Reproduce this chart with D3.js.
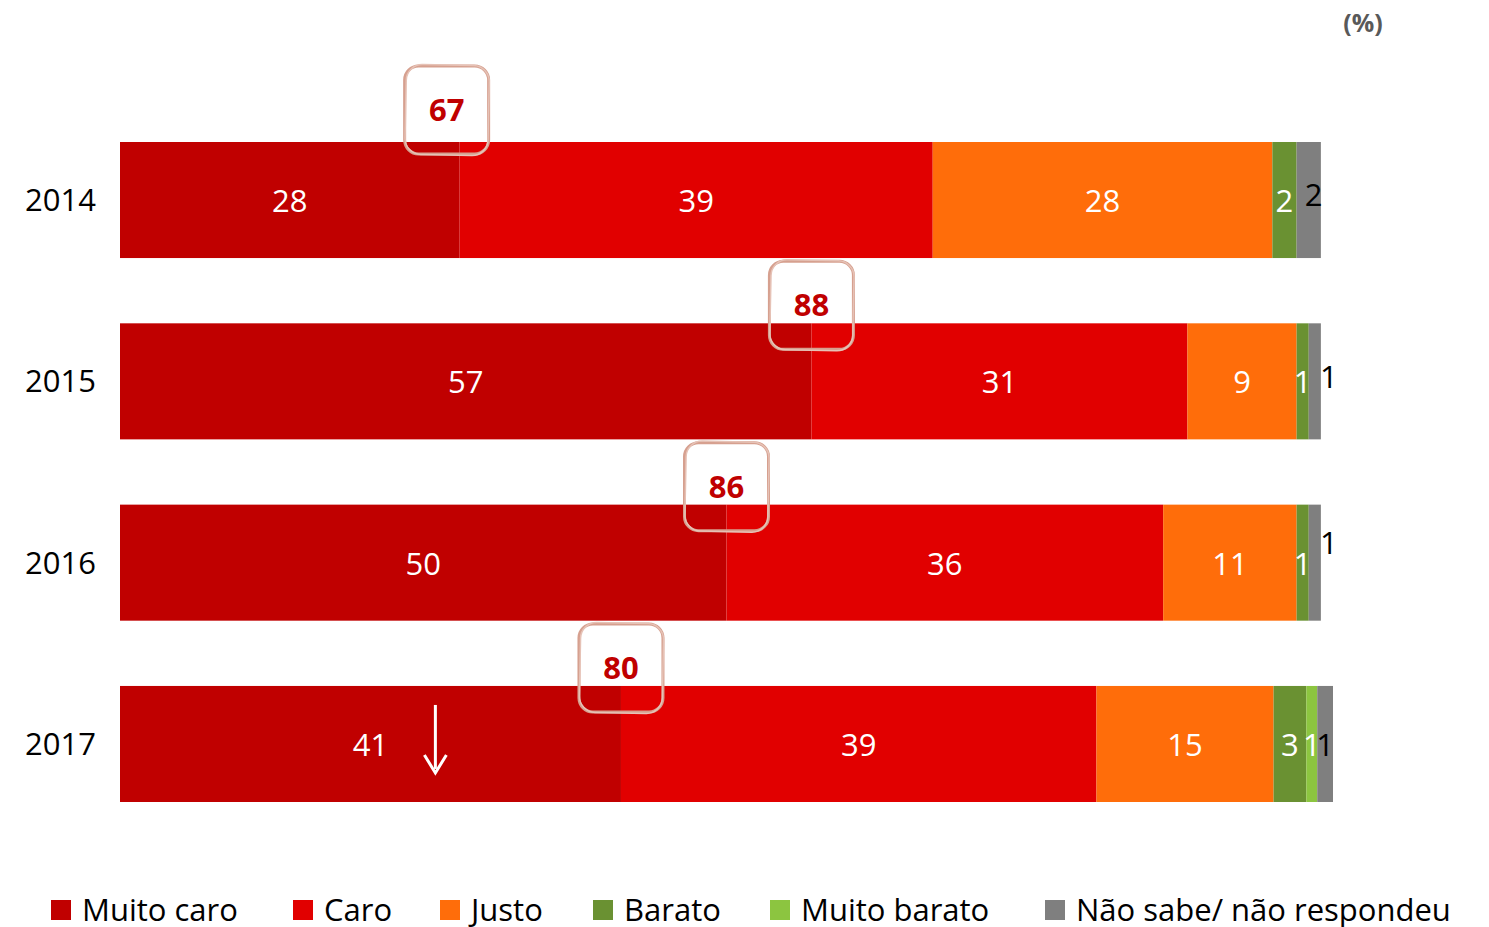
<!DOCTYPE html>
<html>
<head>
<meta charset="utf-8">
<script src="https://cdn.jsdelivr.net/npm/d3@7"></script>
<style>
  body { margin: 0; background: #fff; }
  svg text { font-family: "Open Sans", Calibri, sans-serif; }
</style>
</head>
<body>
<div id="chart-area"></div>
<script>
// data (%)
let years = ["2014", "2015", "2016", "2017"];
let categories = ["Muito caro", "Caro", "Justo", "Barato", "Muito barato", "Não sabe/ não respondeu"];
let muitoCaro   = [28, 57, 50, 41.3];
let caro        = [39, 31, 36, 39.2];
let justo       = [28, 9, 11, 14.6];
let barato      = [2, 1, 1, 2.7];
let muitoBarato = [0, 0, 0, 0.9];
let naoSabe     = [2, 1, 1, 1.3];
let totals      = [67, 88, 86, 80];   // muito caro + caro

let colors = ["#c00000", "#e10000", "#ff6d0a", "#6a9132", "#8cc540", "#7f7f7f"];

// small hand nudges for labels (layout only)
let grayNudge = {"2014": [5, -6], "2015": [14, -5], "2016": [14, -21], "2017": [0, 0]};
let boxNudge = {"2014": [-13, -14]};
let legendX = [51, 293, 440, 593, 770, 1045];

let width = 1489, height = 927;

let svg = d3.select("#chart-area")
    .append("svg")
    .attr("width", width)
    .attr("height", height);

let series = [muitoCaro, caro, justo, barato, muitoBarato, naoSabe];
let rows = years.map(function(y, i){
    let row = {year: y};
    categories.forEach(function(c, j){ row[c] = series[j][i]; });
    return row;
});

let stacked = d3.stack().keys(categories)(rows);

let x = d3.scaleLinear()
    .domain([0, 100])
    .range([120, 1333]);

let y = d3.scaleBand()
    .domain(years)
    .range([142, 802])
    .paddingInner(0.36)
    .paddingOuter(0);

let color = d3.scaleOrdinal().domain(categories).range(colors);

// bars
let layers = svg.selectAll("g.layer")
    .data(stacked)
    .enter()
    .append("g")
    .attr("class", "layer")
    .attr("fill", function(d){ return color(d.key); });

layers.selectAll("rect")
    .data(function(d){ return d; })
    .enter()
    .append("rect")
    .attr("x", function(d){ return x(d[0]); })
    .attr("y", function(d){ return y(d.data.year); })
    .attr("width", function(d){ return Math.max(0, x(d[1]) - x(d[0])); })
    .attr("height", y.bandwidth());

// value labels
stacked.forEach(function(layer, j){
    layer.forEach(function(d){
        let v = d[1] - d[0];
        if (v <= 0) return;
        let yr = d.data.year;
        let cx = (x(d[0]) + x(d[1])) / 2;
        let cy = y(yr) + y.bandwidth() / 2 + 12;
        let fill = "#fff";
        if (layer.key === categories[5]) {
            fill = "#000";
            let n = grayNudge[yr] || [0, 0];
            cx += n[0]; cy += n[1];
        }
        svg.append("text")
            .attr("x", cx)
            .attr("y", cy)
            .attr("text-anchor", "middle")
            .attr("font-size", 31)
            .attr("fill", fill)
            .text(d3.format(".0f")(v));
    });
});

// year labels
svg.selectAll("text.year")
    .data(years)
    .enter()
    .append("text")
    .attr("class", "year")
    .attr("x", 96)
    .attr("y", function(d){ return y(d) + y.bandwidth() / 2 + 11; })
    .attr("text-anchor", "end")
    .attr("font-size", 31)
    .attr("fill", "#000")
    .text(function(d){ return d; });

// total callouts (muito caro + caro)
years.forEach(function(yr, i){
    let n = boxNudge[yr] || [0, 0];
    let cx = x(muitoCaro[i]) + n[0];
    let cy = y(yr) - 18 + n[1];
    let g = svg.append("g");
    g.append("rect")
        .attr("x", cx - 42).attr("y", cy - 44)
        .attr("width", 84).attr("height", 88)
        .attr("rx", 14)
        .attr("fill", "none")
        .attr("stroke", "#d6a08f")
        .attr("stroke-width", 3);
    g.append("rect")
        .attr("x", cx - 41).attr("y", cy - 45)
        .attr("width", 83).attr("height", 90)
        .attr("rx", 16)
        .attr("fill", "none")
        .attr("stroke", "#e6c2b6")
        .attr("stroke-width", 1.5)
        .attr("transform", "rotate(1.2," + cx + "," + cy + ")");
    g.append("text")
        .attr("x", cx)
        .attr("y", cy + 11)
        .attr("text-anchor", "middle")
        .attr("font-size", 31)
        .attr("font-weight", "bold")
        .attr("fill", "#c00000")
        .text(totals[i]);
});

// down arrow in 2017 muito caro
let ax = x(26), ay0 = y("2017") + 19, ay1 = y("2017") + 87;
svg.append("line")
    .attr("x1", ax).attr("x2", ax)
    .attr("y1", ay0).attr("y2", ay1 - 4)
    .attr("stroke", "#fff")
    .attr("stroke-width", 3);
svg.append("path")
    .attr("d", "M" + (ax - 11) + "," + (ay1 - 18) + " L" + ax + "," + ay1 + " L" + (ax + 11) + "," + (ay1 - 18))
    .attr("fill", "none")
    .attr("stroke", "#fff")
    .attr("stroke-width", 3);

// unit
svg.append("text")
    .attr("x", 1363)
    .attr("y", 32)
    .attr("text-anchor", "middle")
    .attr("font-size", 25)
    .attr("font-weight", "bold")
    .attr("fill", "#595959")
    .text("(%)");

// legend
let legend = svg.append("g").attr("class", "legend");
categories.forEach(function(c, i){
    let item = legend.append("g").attr("transform", "translate(" + legendX[i] + ",0)");
    item.append("rect")
        .attr("x", 0).attr("y", 900)
        .attr("width", 20).attr("height", 20)
        .attr("fill", color(c));
    item.append("text")
        .attr("x", 31).attr("y", 921)
        .attr("font-size", 31)
        .attr("fill", "#000")
        .text(c);
});
</script>
</body>
</html>
